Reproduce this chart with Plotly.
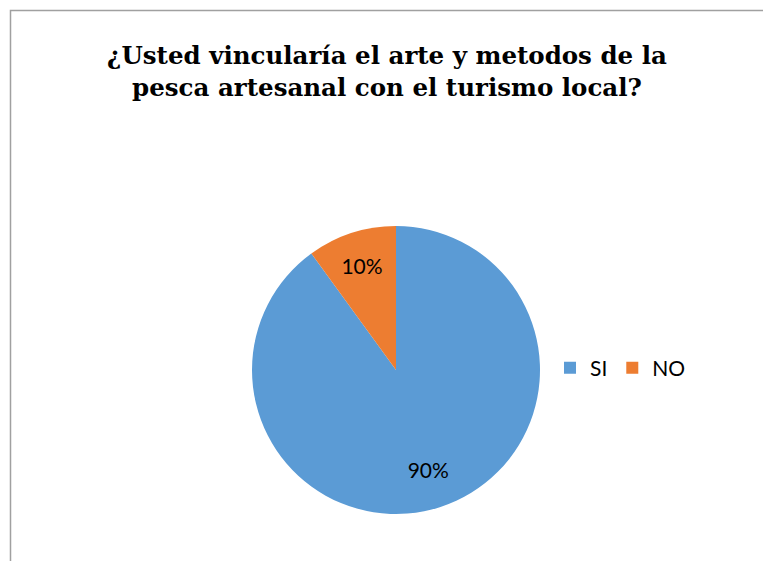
import plotly.graph_objects as go

labels = ["SI", "NO"]
values = [90, 10]
colors = ["#5B9BD5", "#ED7D31"]
title_text = "<b>¿Usted vincularía el arte y metodos de la<br>pesca artesanal con el turismo local?</b>"

W, H = 771, 561
OFF = 8  # page offset of the plot inside the browser window
cx, cy, r = 396 - OFF, 370 - OFF, 144
dom = dict(x=[(cx - r) / W, (cx + r) / W], y=[(H - cy - r) / H, (H - cy + r) / H])
label_font = dict(family="Lato", size=21, color="#000000")

# main pie (slices + small-slice label)
fig = go.Figure(go.Pie(
    labels=labels,
    values=values,
    marker=dict(colors=colors, line=dict(width=0)),
    sort=False,
    direction="clockwise",
    rotation=0,
    texttemplate=["", "%{percent:.0%}"],
    textposition="inside",
    insidetextorientation="horizontal",
    textfont=label_font,
    domain=dom,
    showlegend=True,
    hoverinfo="label+percent",
))

# transparent ring used only to place the large-slice label like the original
fig.add_trace(go.Pie(
    labels=labels,
    values=values,
    marker=dict(colors=["rgba(0,0,0,0)"] * len(values), line=dict(width=0)),
    sort=False,
    direction="clockwise",
    rotation=0,
    hole=0.45,
    texttemplate=["%{percent:.0%}", ""],
    textposition="inside",
    insidetextorientation="horizontal",
    textfont=label_font,
    domain=dom,
    showlegend=False,
    hoverinfo="skip",
))

fig.update_layout(
    width=W, height=H,
    margin=dict(l=0, r=0, t=0, b=0),
    paper_bgcolor="white",
    title=dict(text=title_text, x=(387 - OFF) / W, xanchor="center", y=1 - 56 / H, yanchor="top",
               font=dict(family="DejaVu Serif", size=24.5, color="#000000")),
    legend=dict(orientation="h", x=(550 - OFF) / W, xanchor="left", y=1 - (368 - OFF) / H, yanchor="middle",
                font=dict(family="Lato", size=21, color="#000000"),
                itemwidth=30, traceorder="normal"),
    shapes=[dict(type="rect", xref="paper", yref="paper", x0=(10.5 - OFF) / W, x1=1.05, y0=-0.05,
                 y1=1 - (10.5 - OFF) / H,
                 line=dict(color="#A0A0A0", width=1.5), fillcolor="rgba(0,0,0,0)")],
)

fig.write_html("out.html")
